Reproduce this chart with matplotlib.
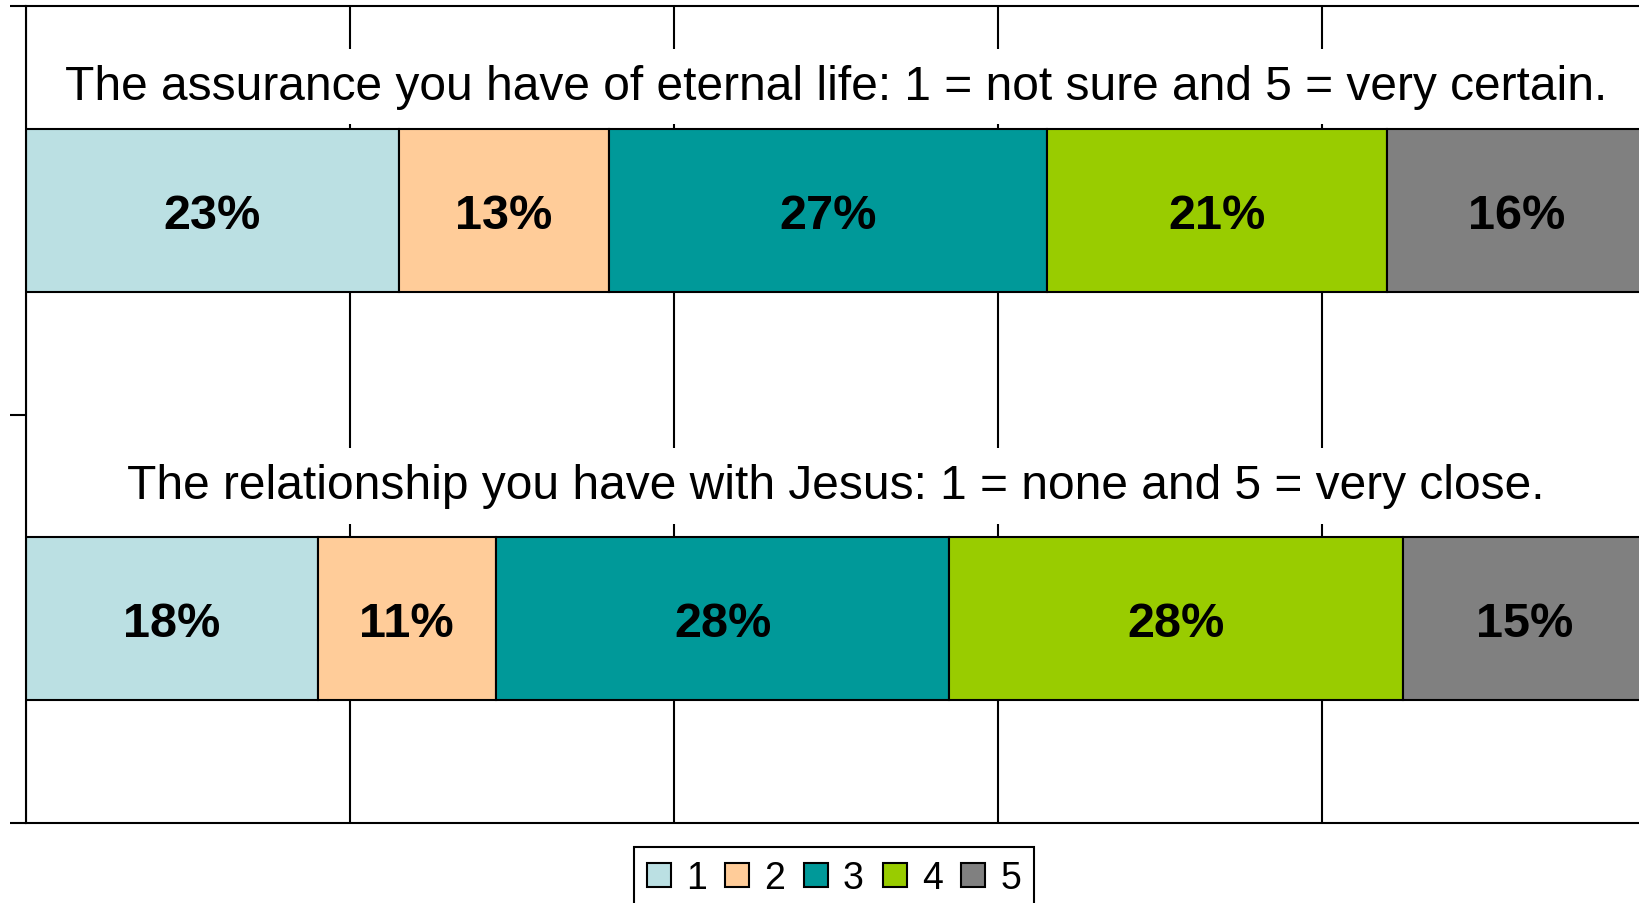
import numpy as np
import matplotlib.pyplot as plt
from matplotlib.patches import Patch

plt.rcParams['font.family'] = ['Liberation Sans', 'DejaVu Sans']

questions = ['The assurance you have of eternal life: 1 = not sure and 5 = very certain.',
             'The relationship you have with Jesus: 1 = none and 5 = very close.']
levels = ['1', '2', '3', '4', '5']
shares = np.array([[23, 13, 27, 21, 16],
                   [18, 11, 28, 28, 15]])
colors = ['#BBE0E3', '#FFCC99', '#009999', '#99CC00', '#808080']

fig = plt.figure(figsize=(16.4, 9.04), dpi=100)
ax = fig.add_axes([26/1640, 1-824/904, 1620/1640, 817/904])

ypos = np.arange(len(questions))
left = np.zeros(len(questions))
for j in range(len(levels)):
    vals = shares[:, j] / 100
    ax.barh(ypos, vals, left=left, height=0.4, color=colors[j],
            edgecolor='black', linewidth=1.5, zorder=2)
    for i in range(len(questions)):
        ax.text(left[i] + vals[i]/2, ypos[i], f'{shares[i, j]}%',
                ha='center', va='center_baseline', fontsize=35, fontweight='bold', zorder=4)
    left += vals

# question titles sit in white boxes above each bar
title_offset = [-0.303, -0.325]
for i, q in enumerate(questions):
    ax.text(0.5, ypos[i] + title_offset[i], q, ha='center', va='center', fontsize=34.5, zorder=3,
            bbox=dict(facecolor='white', edgecolor='none', pad=11))

ax.set_xlim(0, 1)
ax.set_ylim(1.5, -0.5)
ax.set_xticks(np.arange(0, 1.01, 0.2))
ax.set_yticks([-0.5, 0.5, 1.5])
ax.set_xticklabels([])
ax.set_yticklabels([])
ax.tick_params(axis='x', length=0)
ax.tick_params(axis='y', direction='out', length=11.5, width=1.5)
ax.grid(axis='x', color='black', linewidth=1.5)
ax.set_axisbelow(True)
for s in ['left', 'top', 'bottom']:
    ax.spines[s].set_linewidth(1.5)
ax.spines['right'].set_visible(False)

handles = [Patch(facecolor=c, edgecolor='black', linewidth=1.5) for c in colors]
leg = fig.legend(handles, levels, loc='upper center', bbox_to_anchor=(834/1640, 1-848/904),
                 ncol=5, fontsize=27, frameon=True, fancybox=False, edgecolor='black',
                 framealpha=1, handlelength=0.64, handleheight=0.64, handletextpad=0.4,
                 columnspacing=0.5, borderpad=0.35, borderaxespad=0)
leg.get_frame().set_linewidth(1.5)

fig.savefig('out.png', dpi=100)
